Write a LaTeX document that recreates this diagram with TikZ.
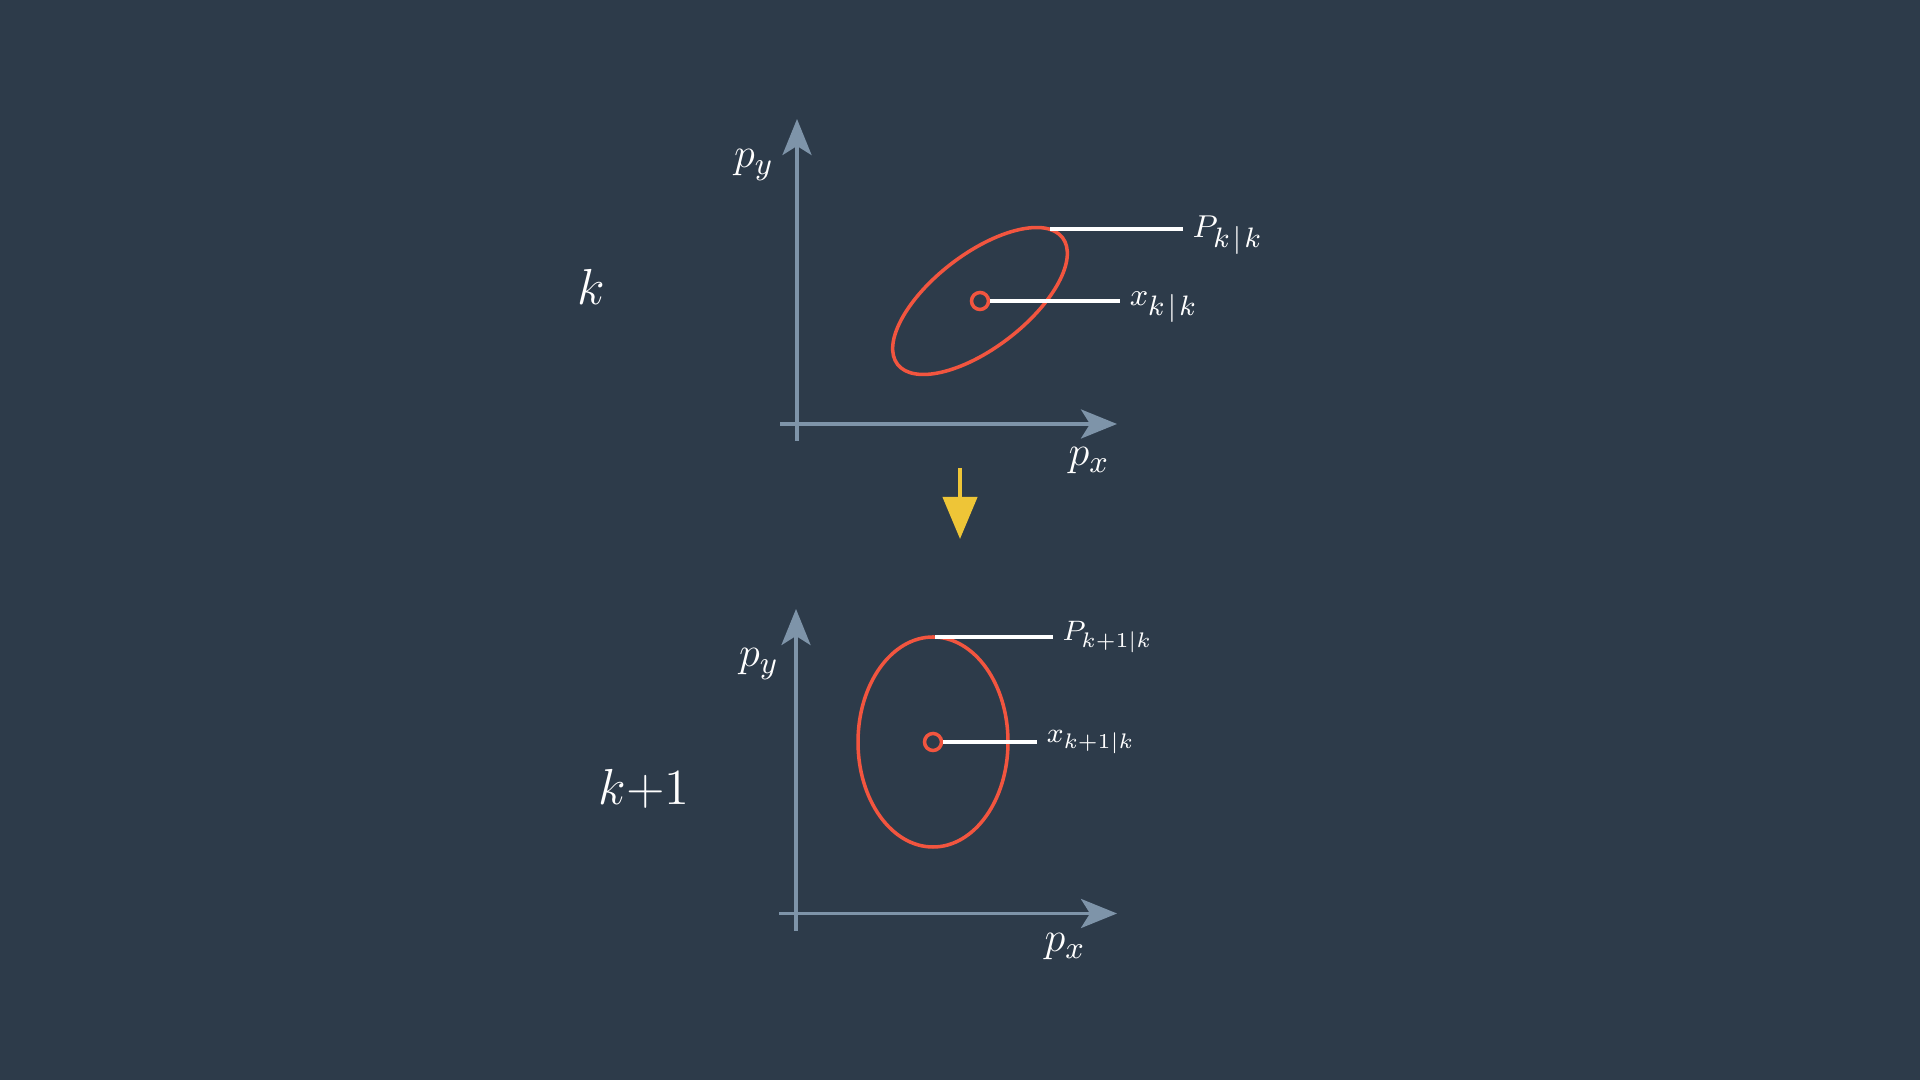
\documentclass[tikz,border=0pt]{standalone}
\usepackage{tikz}
\usepackage{amsmath}
\usetikzlibrary{
  arrows.meta,
  positioning
}
\DeclareMathSizes{9.5}{9.5}{7.6}{6}
\DeclareMathSizes{7.8}{7.8}{6.3}{5}
\definecolor{kfBg}{HTML}{2D3B4A}
\definecolor{kfAxis}{HTML}{7E94A9}
\definecolor{kfCov}{HTML}{F2553F}
\definecolor{kfStep}{HTML}{EEC537}
\tikzset{
  axisline/.style={-{Stealth[length=3.6mm, width=2.9mm, inset=0.9mm]}, line width=1.05pt, kfAxis},
  covell/.style={draw=kfCov, line width=1pt},
  meanpt/.style={circle, draw=kfCov, line width=1pt, minimum size=1.7mm, inner sep=0pt},
  leader/.style={draw=white, line width=1.15pt},
  axlabel/.style={text=white, font=\fontsize{12.5}{15}\selectfont, inner sep=1pt},
  tag/.style={text=white, font=\fontsize{9.5}{12}\selectfont, inner sep=2.5pt},
  smalltag/.style={tag, font=\fontsize{7.8}{10}\selectfont},
  steplabel/.style={text=white, font=\fontsize{15}{18}\selectfont},
  stepflow/.style={-{Triangle[length=4.2mm, width=3.4mm]}, line width=1.2pt, kfStep}
}
\begin{document}
\begin{tikzpicture}
  \fill[kfBg] (0,0) rectangle (19.2,10.8);
  % step k
  \coordinate (ya1) at (7.97,6.39);
  \coordinate (yb1) at (7.97,9.61);
  \coordinate (xa1) at (7.80,6.56);
  \coordinate (xb1) at (11.17,6.56);
  \draw[axisline] (ya1) -- (yb1);
  \draw[axisline] (xa1) -- (xb1);
  \node[axlabel] (py1) at (7.54,9.15) {$p_y$};
  \node[axlabel] (px1) at (10.89,6.19) {$p_x$};
  \node[steplabel] (k1) at (5.91,7.93) {$k$};
  \draw[covell, rotate around={37.5:(9.80,7.79)}] (9.80,7.79) ellipse [x radius=1.04, y radius=0.47];
  \node[meanpt] (m1) at (9.80,7.79) {};
  \coordinate (c1) at (10.50,8.51);
  \node[tag, right=13.3mm of c1, yshift=-0.6mm] (P1) {$P_{k\mkern2mu|\mkern2mu k}$};
  \node[tag, right=13.0mm of m1, yshift=-0.6mm] (x1) {$x_{k\mkern2mu|\mkern2mu k}$};
  \draw[leader] (c1) -- (c1 -| P1.west);
  \draw[leader] (m1) -- (m1 -| x1.west);
  % prediction
  \coordinate (s1) at (9.60,6.12);
  \coordinate (s2) at (9.60,5.41);
  \draw[stepflow] (s1) -- (s2);
  % step k+1
  \coordinate (ya2) at (7.96,1.49);
  \coordinate (yb2) at (7.96,4.71);
  \coordinate (xa2) at (7.79,1.665);
  \coordinate (xb2) at (11.17,1.665);
  \draw[axisline] (ya2) -- (yb2);
  \draw[axisline] (xa2) -- (xb2);
  \node[axlabel] (py2) at (7.59,4.16) {$p_y$};
  \node[axlabel] (px2) at (10.65,1.33) {$p_x$};
  \node[steplabel] (k2) at (6.44,2.91) {$k{+}1$};
  \draw[covell] (9.33,3.38) ellipse [x radius=0.75, y radius=1.05];
  \node[meanpt] (m2) at (9.33,3.38) {};
  \coordinate (c2) at (9.35,4.43);
  \node[smalltag, right=11.8mm of c2] (P2) {$P_{k+1|k}$};
  \node[smalltag, right=9.4mm of m2] (x2) {$x_{k+1|k}$};
  \draw[leader] (c2) -- (P2);
  \draw[leader] (m2) -- (x2);
\end{tikzpicture}
\end{document}
